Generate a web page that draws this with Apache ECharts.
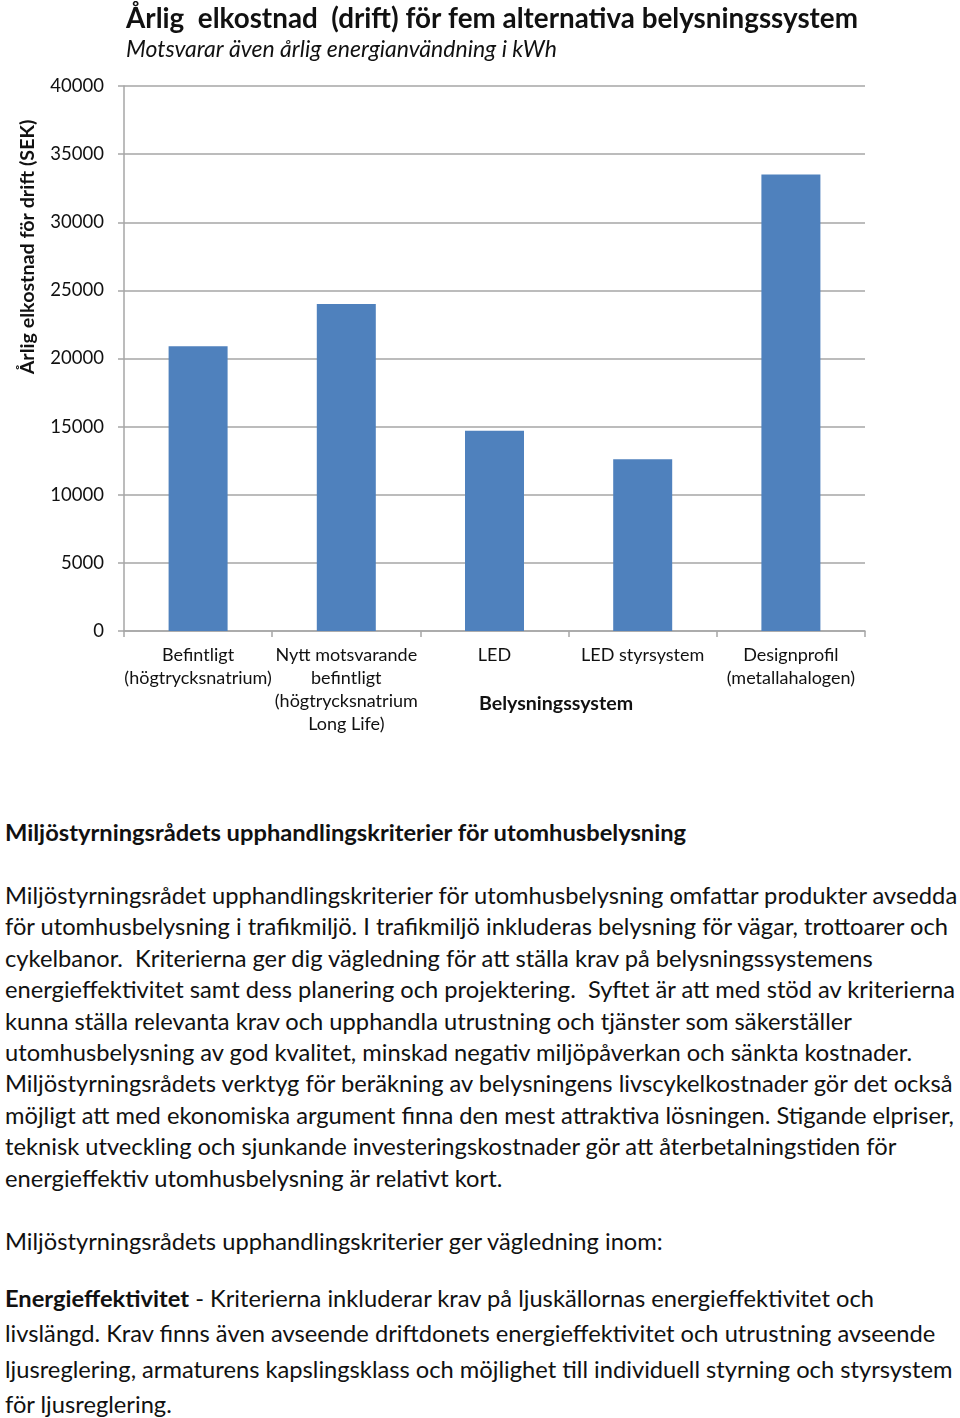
<!DOCTYPE html>
<html>
<head>
<meta charset="utf-8">
<script src="https://cdn.jsdelivr.net/npm/echarts@6/dist/echarts.min.js"></script>
<style>
    html, body { margin: 0; padding: 0; background: #fff; }
    body { width: 960px; height: 1418px; position: relative; overflow: hidden; font-family: Lato, "Open Sans", sans-serif; color: #111; }
    #chart { position: absolute; left: 0; top: 0; width: 960px; height: 780px; }
    .txt { position: absolute; left: 5px; white-space: nowrap; font-size: 23.7px; }
    .p1 { line-height: 31.4px; }
    .p2 { line-height: 35.4px; }
</style>
</head>
<body>
<div id="chart"></div>

<div class="txt" style="top:818px;font-weight:bold;">Miljöstyrningsrådets upphandlingskriterier för utomhusbelysning</div>
<div class="txt p1" style="top:880px;">
Miljöstyrningsrådet upphandlingskriterier för utomhusbelysning omfattar produkter avsedda<br>
för utomhusbelysning i trafikmiljö. I trafikmiljö inkluderas belysning för vägar, trottoarer och<br>
cykelbanor.&nbsp; Kriterierna ger dig vägledning för att ställa krav på belysningssystemens<br>
energieffektivitet samt dess planering och projektering.&nbsp; Syftet är att med stöd av kriterierna<br>
kunna ställa relevanta krav och upphandla utrustning och tjänster som säkerställer<br>
utomhusbelysning av god kvalitet, minskad negativ miljöpåverkan och sänkta kostnader.<br>
Miljöstyrningsrådets verktyg för beräkning av belysningens livscykelkostnader gör det också<br>
möjligt att med ekonomiska argument finna den mest attraktiva lösningen. Stigande elpriser,<br>
teknisk utveckling och sjunkande investeringskostnader gör att återbetalningstiden för<br>
energieffektiv utomhusbelysning är relativt kort.
</div>
<div class="txt" style="top:1227px;">Miljöstyrningsrådets upphandlingskriterier ger vägledning inom:</div>
<div class="txt p2" style="top:1281px;">
<b>Energieffektivitet</b> - Kriterierna inkluderar krav på ljuskällornas energieffektivitet och<br>
livslängd. Krav finns även avseende driftdonets energieffektivitet och utrustning avseende<br>
ljusreglering, armaturens kapslingsklass och möjlighet till individuell styrning och styrsystem<br>
för ljusreglering.
</div>

<script>
    // kategorier (belysningssystem)
    var categories = [
        'Befintligt\n(högtrycksnatrium)',
        'Nytt motsvarande\nbefintligt\n(högtrycksnatrium\nLong Life)',
        'LED',
        'LED styrsystem',
        'Designprofil\n(metallahalogen)'
    ];
    // årlig elkostnad (SEK)
    var costs = [20900, 24000, 14700, 12600, 33500];
    var yMin = 0;
    var yMax = 40000;
    var yStep = 5000;

    var myChart = echarts.init(document.getElementById('chart'));
    var font = 'Lato, "Open Sans", sans-serif';

    var option = {
        animation: false,
        textStyle: { fontFamily: font },
        title: {
            text: 'Årlig  elkostnad  (drift) för fem alternativa belysningssystem',
            subtext: 'Motsvarar även årlig energianvändning i kWh',
            left: 121,
            top: 0,
            itemGap: 5,
            textStyle: { fontSize: 27.8, fontWeight: 'bold', color: '#111', fontFamily: font },
            subtextStyle: { fontSize: 23, fontStyle: 'italic', color: '#111', fontFamily: font }
        },
        grid: {
            left: 124,
            right: 95,
            top: 86,
            bottom: 149,
            containLabel: false
        },
        xAxis: {
            type: 'category',
            data: categories,
            axisLine: { lineStyle: { color: '#a6a6a6', width: 1.5 } },
            axisTick: { show: true, length: 6, lineStyle: { color: '#a6a6a6', width: 1.5 } },
            axisLabel: {
                interval: 0,
                margin: 13,
                fontSize: 18,
                lineHeight: 23,
                color: '#111',
                fontFamily: font
            }
        },
        yAxis: {
            type: 'value',
            min: yMin,
            max: yMax,
            interval: yStep,
            axisLine: { show: true, lineStyle: { color: '#a6a6a6', width: 1.5 } },
            axisTick: { show: true, length: 6, lineStyle: { color: '#a6a6a6', width: 1.5 } },
            splitLine: { lineStyle: { color: '#a6a6a6', width: 1.5 } },
            axisLabel: {
                margin: 20,
                fontSize: 18.5,
                color: '#111',
                fontFamily: font,
                formatter: function (v) { return String(v); }
            }
        },
        series: [
            {
                type: 'bar',
                data: costs,
                barWidth: 59,
                itemStyle: { color: '#4f81bd' }
            }
        ],
        graphic: [
            {
                type: 'text',
                x: 28,
                y: 247,
                rotation: Math.PI / 2,
                style: {
                    text: 'Årlig elkostnad för drift (SEK)',
                    fontSize: 19.7,
                    fontWeight: 'bold',
                    fontFamily: font,
                    fill: '#111',
                    align: 'center',
                    verticalAlign: 'middle'
                }
            },
            {
                type: 'text',
                x: 556,
                y: 704,
                style: {
                    text: 'Belysningssystem',
                    fontSize: 19.6,
                    fontWeight: 'bold',
                    fontFamily: font,
                    fill: '#111',
                    align: 'center',
                    verticalAlign: 'middle'
                }
            }
        ]
    };

    myChart.setOption(option);
</script>
</body>
</html>
